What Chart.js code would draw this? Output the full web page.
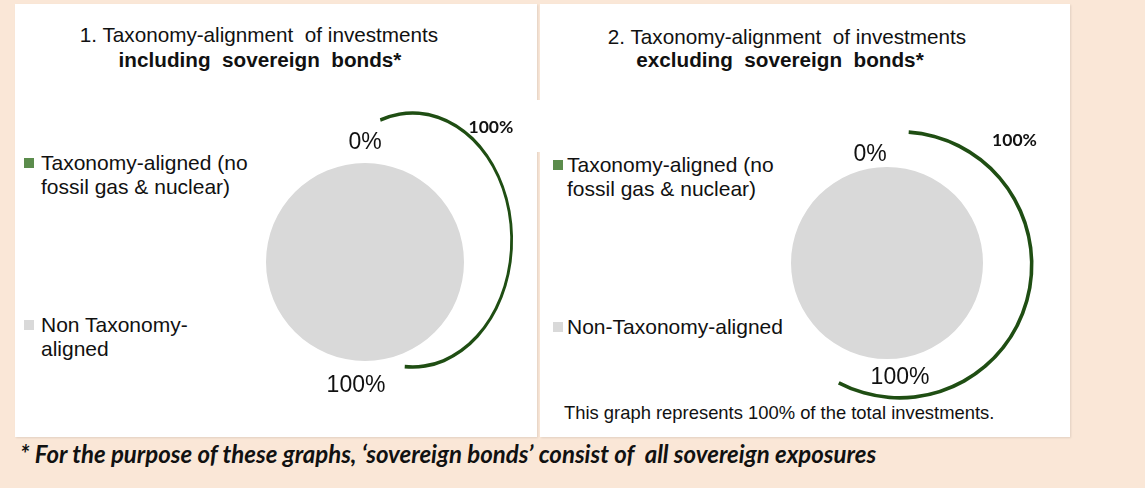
<!DOCTYPE html>
<html>
<head>
<meta charset="utf-8">
<title>Taxonomy-alignment of investments</title>
<script src="https://cdn.jsdelivr.net/npm/chart.js@4.4.1/dist/chart.umd.min.js"></script>
<style>
  html, body { margin: 0; padding: 0; }
  body {
    width: 1145px; height: 488px; position: relative; overflow: hidden;
    background: #fae7d7; color: #111;
    font-family: "Liberation Sans", Arial, sans-serif;
  }
  .panel { position: absolute; background: #fff; box-shadow: 1px 1px 2px rgba(0,0,0,0.10); }
  .title { position: absolute; width: 500px; font-size: 20.7px; line-height: 24px; text-align: center; white-space: pre; }
  .legend-item { position: absolute; font-size: 21px; line-height: 24px; white-space: nowrap; }
  .legend-item .box { position: absolute; top: 7px; width: 10px; height: 10px; }
  .note { position: absolute; white-space: pre; }
  canvas { position: absolute; pointer-events: none; }
</style>
</head>
<body>
<div class="panel" style="left:15px;top:4px;width:522px;height:433px"></div>
<div class="panel" style="left:540px;top:4px;width:530px;height:433px"></div>
<div class="panel" style="left:536px;top:100px;width:6px;height:52px;box-shadow:none"></div>

<div id="texts"></div>

<div class="note" id="noteExcl" style="left:564px;top:403px;font-size:18.4px;line-height:20px"></div>
<div class="note" id="footnote" style="left:20px;top:440px;font-family:Lato,'Open Sans',sans-serif;font-weight:700;font-style:italic;font-size:24px;line-height:28px"></div>

<canvas id="pieIncl" width="320" height="320"></canvas>
<canvas id="pieExcl" width="320" height="320"></canvas>
<canvas id="arcIncl" width="400" height="400"></canvas>
<canvas id="arcExcl" width="400" height="400"></canvas>

<script>
// chart values
const categoriesIncl = [['Taxonomy-aligned (no', 'fossil gas & nuclear)'], ['Non Taxonomy-', 'aligned']];
const categoriesExcl = [['Taxonomy-aligned (no', 'fossil gas & nuclear)'], ['Non-Taxonomy-aligned']];
const sharesIncl = [0, 100];
const sharesExcl = [0, 100];
const bracketIncl = [100];
const bracketExcl = [100];
const titlesIncl = ['1. Taxonomy-alignment  of investments', 'including  sovereign  bonds*'];
const titlesExcl = ['2. Taxonomy-alignment  of investments', 'excluding  sovereign  bonds*'];
const noteExcl = 'This graph represents 100% of the total investments.';
const footnote = '* For the purpose of these graphs, \u2018sovereign bonds\u2019 consist of  all sovereign exposures';

// colours
const sliceColors = ['#5b8c4c', '#d9d9d9'];
const bracketColor = '#1f4e13';

// where things sit on the page
const layoutIncl = {
    pie: { cx: 365, cy: 262, r: 99, labelDist: [20, 25], labelShift: [0, -9] },
    bracket: { cx: 413, cy: 240, rx: 99, ry: 127, rotation: -19.1, circumference: 203.7, labelAngle: 41.6, labelFactor: 1.19 },
    legend: { textX: 41, boxX: 24, tops: [151, 313] },
    title: { centers: [259, 260], tops: [23, 48] }
};
const layoutExcl = {
    pie: { cx: 887, cy: 263, r: 96, labelDist: [12, 19], labelShift: [-17, 13] },
    bracket: { cx: 900, cy: 265, rx: 132, ry: 133, rotation: 3.9, circumference: 203.6, labelAngle: 42.8, labelFactor: 1.28 },
    legend: { textX: 567, boxX: 553, tops: [153, 315] },
    title: { centers: [787, 780], tops: [25, 48] }
};

// percentage labels outside each slice
const sliceLabelPlugin = {
    id: 'sliceLabels',
    afterDatasetsDraw(chart, args, opts) {
        const ctx = chart.ctx;
        const values = chart.data.datasets[0].data;
        ctx.save();
        ctx.font = opts.font;
        ctx.fillStyle = opts.color;
        ctx.textAlign = 'center';
        ctx.textBaseline = 'middle';
        chart.getDatasetMeta(0).data.forEach(function (arc, i) {
            const p = arc.getProps(['x', 'y', 'startAngle', 'endAngle', 'outerRadius'], true);
            const mid = (p.startAngle + p.endAngle) / 2;
            const r = p.outerRadius + opts.distance[i];
            ctx.fillText(values[i] + '%', p.x + Math.cos(mid) * r + opts.shiftX[i], p.y + Math.sin(mid) * r);
        });
        ctx.restore();
    }
};

// squashes the bracket ring into an ellipse and writes its label
const bracketPlugin = {
    id: 'bracket',
    beforeDatasetsDraw(chart, args, opts) {
        const el = chart.getDatasetMeta(0).data[0];
        const ctx = chart.ctx;
        ctx.save();
        ctx.translate(el.x, el.y);
        ctx.scale(opts.scaleX, 1);
        ctx.translate(-el.x, -el.y);
    },
    afterDatasetsDraw(chart, args, opts) {
        const ctx = chart.ctx;
        ctx.restore();
        const p = chart.getDatasetMeta(0).data[0].getProps(['x', 'y', 'outerRadius'], true);
        const rc = p.outerRadius - opts.thickness / 2;
        const a = opts.labelAngle * Math.PI / 180;
        ctx.save();
        ctx.font = opts.font;
        ctx.fillStyle = '#111';
        ctx.textAlign = 'center';
        ctx.textBaseline = 'middle';
        ctx.fillText(chart.data.datasets[0].data[0] + '%',
            p.x + Math.sin(a) * opts.labelFactor * rc * opts.scaleX,
            p.y - Math.cos(a) * opts.labelFactor * rc);
        ctx.restore();
    }
};

function placeCanvas(canvas, chart, cx, cy) {
    const el = chart.getDatasetMeta(0).data[0];
    canvas.style.left = (cx - el.x) + 'px';
    canvas.style.top = (cy - el.y) + 'px';
}

function makePie(id, labels, values, geo) {
    const canvas = document.getElementById(id);
    const chart = new Chart(canvas, {
        type: 'pie',
        data: {
            labels: labels,
            datasets: [{
                data: values,
                backgroundColor: sliceColors,
                borderWidth: 0,
                hoverOffset: 0,
                offset: 0,
                radius: geo.r
            }]
        },
        options: {
            responsive: false,
            animation: false,
            events: [],
            plugins: {
                legend: { display: false },
                tooltip: { enabled: false },
                sliceLabels: {
                    font: '23px "Liberation Sans", Arial, sans-serif',
                    color: '#111',
                    distance: geo.labelDist,
                    shiftX: geo.labelShift
                }
            }
        },
        plugins: [sliceLabelPlugin]
    });
    placeCanvas(canvas, chart, geo.cx, geo.cy);
}

function makeBracket(id, values, geo) {
    const canvas = document.getElementById(id);
    const thickness = 3.6;
    const outer = geo.ry + thickness / 2;
    const chart = new Chart(canvas, {
        type: 'doughnut',
        data: {
            labels: ['Total'],
            datasets: [{
                data: values,
                backgroundColor: bracketColor,
                borderWidth: 0,
                hoverOffset: 0,
                offset: 0,
                radius: outer,
                cutout: ((outer - thickness) / outer * 100) + '%',
                rotation: geo.rotation,
                circumference: geo.circumference
            }]
        },
        options: {
            responsive: false,
            animation: false,
            events: [],
            plugins: {
                legend: { display: false },
                tooltip: { enabled: false },
                bracket: {
                    scaleX: geo.rx / geo.ry,
                    thickness: thickness,
                    labelAngle: geo.labelAngle,
                    labelFactor: geo.labelFactor,
                    font: 'bold 17.5px Lato, "Liberation Sans", sans-serif'
                }
            }
        },
        plugins: [bracketPlugin]
    });
    placeCanvas(canvas, chart, geo.cx, geo.cy);
}

function addText(html, cls, left, top, extra) {
    const d = document.createElement('div');
    d.className = cls;
    d.style.left = left + 'px';
    d.style.top = top + 'px';
    if (extra) d.style.cssText += extra;
    d.innerHTML = html;
    document.getElementById('texts').appendChild(d);
    return d;
}

function buildTexts(titles, labels, lay) {
    addText(titles[0], 'title', lay.title.centers[0] - 250, lay.title.tops[0]);
    addText(titles[1], 'title', lay.title.centers[1] - 250, lay.title.tops[1], 'font-weight:bold');
    labels.forEach(function (lines, i) {
        const d = addText('', 'legend-item', lay.legend.textX, lay.legend.tops[i]);
        const box = document.createElement('span');
        box.className = 'box';
        box.style.left = (lay.legend.boxX - lay.legend.textX) + 'px';
        box.style.background = sliceColors[i];
        d.appendChild(box);
        d.appendChild(document.createTextNode(lines[0]));
        for (let k = 1; k < lines.length; k++) {
            d.appendChild(document.createElement('br'));
            d.appendChild(document.createTextNode(lines[k]));
        }
    });
}

buildTexts(titlesIncl, categoriesIncl, layoutIncl);
buildTexts(titlesExcl, categoriesExcl, layoutExcl);
document.getElementById('noteExcl').textContent = noteExcl;
document.getElementById('footnote').textContent = footnote;

makePie('pieIncl', categoriesIncl, sharesIncl, layoutIncl.pie);
makePie('pieExcl', categoriesExcl, sharesExcl, layoutExcl.pie);
makeBracket('arcIncl', bracketIncl, layoutIncl.bracket);
makeBracket('arcExcl', bracketExcl, layoutExcl.bracket);
</script>
</body>
</html>
